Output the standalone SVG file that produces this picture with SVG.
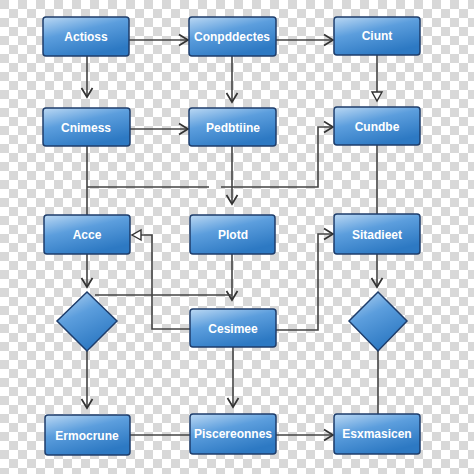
<svg xmlns="http://www.w3.org/2000/svg" width="474" height="474" viewBox="0 0 474 474">
<defs>
<pattern id="chk" width="18" height="18" patternUnits="userSpaceOnUse">
<rect width="18" height="18" fill="#ffffff"/>
<rect width="9" height="9" fill="#d8d8d8"/>
<rect x="9" y="9" width="9" height="9" fill="#d8d8d8"/>
</pattern>
<linearGradient id="g" x1="0" y1="0" x2="0.5" y2="1">
<stop offset="0" stop-color="#bcd9f4"/>
<stop offset="0.45" stop-color="#5c9edd"/>
<stop offset="1" stop-color="#2d79c3"/>
</linearGradient>
<marker id="a" markerWidth="14" markerHeight="14" refX="12" refY="7" orient="auto" markerUnits="userSpaceOnUse">
<polyline points="3,1.5 12,7 3,12.5" fill="none" stroke="#333" stroke-width="1.7"/>
</marker>
<marker id="t" markerWidth="14" markerHeight="14" refX="12" refY="7" orient="auto" markerUnits="userSpaceOnUse">
<polygon points="3,2 12,7 3,12" fill="#fff" stroke="#333" stroke-width="1.4"/>
</marker>
</defs>
<style>
.b{fill:url(#g);stroke:#1e3d6b;stroke-width:1.5}
.l{fill:#ffffff;font-family:"Liberation Sans",Arial,sans-serif;font-weight:bold;font-size:12px;text-anchor:middle;dominant-baseline:central}
.c{fill:none;stroke:#444;stroke-width:1.6}
</style>
<rect width="474" height="474" fill="url(#chk)"/>
<g id="connectors">
<line class="c" x1="129" y1="40" x2="188" y2="40" marker-end="url(#a)"/>
<line class="c" x1="276" y1="40" x2="333" y2="40" marker-end="url(#a)"/>
<line class="c" x1="87" y1="56" x2="87" y2="97" marker-end="url(#a)"/>
<line class="c" x1="232" y1="56" x2="232" y2="102" marker-end="url(#a)"/>
<line class="c" x1="377" y1="55" x2="377" y2="101" marker-end="url(#t)"/>
<line class="c" x1="130" y1="129" x2="188" y2="129" marker-end="url(#a)"/>
<line class="c" x1="87" y1="146" x2="87" y2="215"/>
<line class="c" x1="87" y1="187" x2="209" y2="187"/>
<polyline class="c" points="221,187 318,187 318,127 333,127" marker-end="url(#a)"/>
<line class="c" x1="232" y1="146" x2="232" y2="204" marker-end="url(#a)"/>
<line class="c" x1="377" y1="145" x2="377" y2="214"/>
<polyline class="c" points="190,329 152,329 152,235 132,235" marker-end="url(#t)"/>
<line class="c" x1="87" y1="254" x2="87" y2="287" marker-end="url(#a)"/>
<line class="c" x1="232" y1="254" x2="232" y2="300" marker-end="url(#a)"/>
<line class="c" x1="95" y1="295" x2="232" y2="295"/>
<polyline class="c" points="276,330 318,330 318,234 333,234" marker-end="url(#a)"/>
<line class="c" x1="377" y1="254" x2="377" y2="287" marker-end="url(#a)"/>
<line class="c" x1="87" y1="351" x2="87" y2="408" marker-end="url(#a)"/>
<line class="c" x1="233" y1="347" x2="233" y2="407" marker-end="url(#a)"/>
<line class="c" x1="378" y1="351" x2="378" y2="414"/>
<line class="c" x1="130" y1="435" x2="190" y2="435"/>
<line class="c" x1="276" y1="435" x2="333" y2="435" marker-end="url(#a)"/>
</g>
<g id="n1"><rect class="b" x="43" y="17" width="86" height="39" rx="3"/><text class="l" x="86" y="37">Actioss</text></g>
<g id="n2"><rect class="b" x="189" y="17" width="87" height="39" rx="3"/><text class="l" x="232" y="37">Conpddectes</text></g>
<g id="n3"><rect class="b" x="334" y="17" width="86" height="38" rx="3"/><text class="l" x="377" y="36">Ciunt</text></g>
<g id="n4"><rect class="b" x="43" y="108" width="87" height="38" rx="3"/><text class="l" x="86" y="128">Cnimess</text></g>
<g id="n5"><rect class="b" x="189" y="108" width="87" height="38" rx="3"/><text class="l" x="233" y="128">Pedbtiine</text></g>
<g id="n6"><rect class="b" x="334" y="107" width="86" height="38" rx="3"/><text class="l" x="377" y="127">Cundbe</text></g>
<g id="n7"><rect class="b" x="44" y="215" width="86" height="39" rx="3"/><text class="l" x="87" y="235">Acce</text></g>
<g id="n8"><rect class="b" x="190" y="215" width="85" height="39" rx="3"/><text class="l" x="233" y="235">Plotd</text></g>
<g id="n9"><rect class="b" x="334" y="214" width="86" height="40" rx="3"/><text class="l" x="377" y="235">Sitadieet</text></g>
<g id="d1"><polygon class="b" points="87,292 117,321 87,351 57,321"/></g>
<g id="d2"><polygon class="b" points="378,292 407,321 378,351 349,321"/></g>
<g id="n10"><rect class="b" x="190" y="309" width="86" height="38" rx="3"/><text class="l" x="233" y="329">Cesimee</text></g>
<g id="n11"><rect class="b" x="45" y="415" width="85" height="40" rx="3"/><text class="l" x="87" y="436">Ermocrune</text></g>
<g id="n12"><rect class="b" x="190" y="414" width="86" height="40" rx="3"/><text class="l" x="233" y="434">Piscereonnes</text></g>
<g id="n13"><rect class="b" x="334" y="414" width="86" height="40" rx="3"/><text class="l" x="377" y="434">Esxmasicen</text></g>
</svg>
